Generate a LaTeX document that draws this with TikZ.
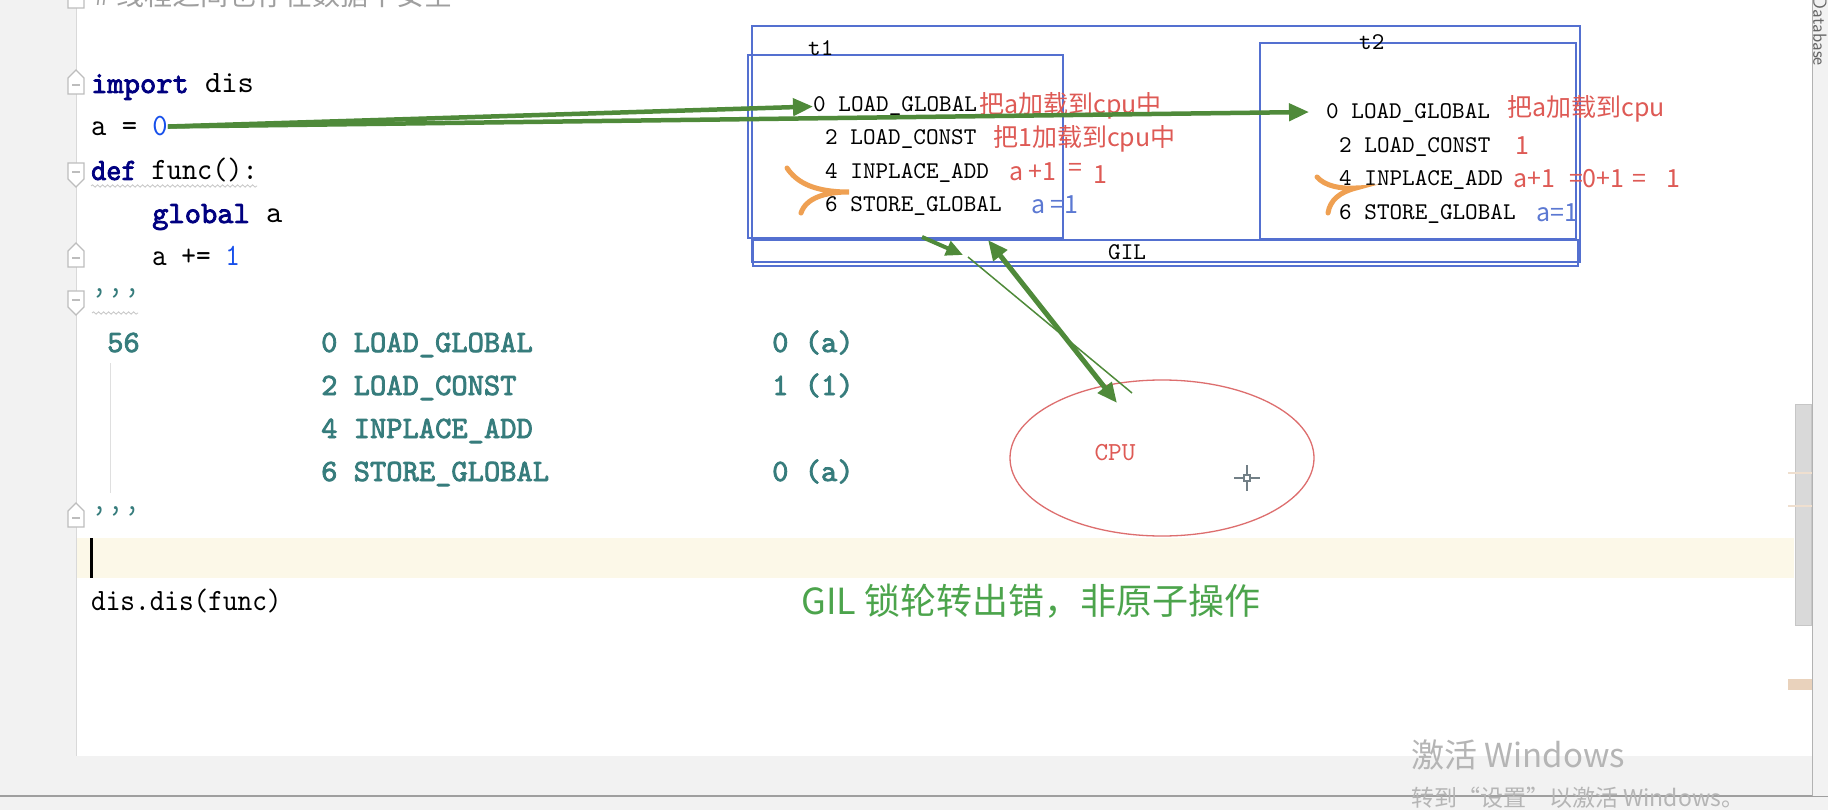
\documentclass[tikz,border=0pt]{standalone}
\usepackage{fontspec}
\setmonofont[Extension=.otf,UprightFont=*-regular,BoldFont=*-regular,
  BoldFeatures={FakeBold=2.5}]{lmmono10}
\newfontfamily\cjk{Noto Sans CJK SC}
\usetikzlibrary{arrows.meta,shapes.geometric,decorations.pathmorphing}

\definecolor{guttergray}{HTML}{F2F2F2}
\definecolor{kwnavy}{HTML}{000080}
\definecolor{numblue}{HTML}{1750EB}
\definecolor{dasmteal}{HTML}{367C7C}
\definecolor{boxblue}{HTML}{5470D0}
\definecolor{annored}{HTML}{DE5A55}
\definecolor{annoblue}{HTML}{5B78D2}
\definecolor{arrowgreen}{HTML}{4F8A3A}
\definecolor{penorange}{HTML}{EFA052}
\definecolor{cpured}{HTML}{DD6E6E}
\definecolor{notegreen}{HTML}{4CA44C}
\definecolor{caretline}{HTML}{FCF8E8}
\definecolor{markgray}{HTML}{BDBDBD}
\definecolor{winmark}{HTML}{B5B5B5}

\newcommand{\kwd}[1]{{\bfseries\color{kwnavy}#1}}
\newcommand{\numlit}[1]{{\color{numblue}#1}}

\begin{document}
\begin{tikzpicture}[x=1pt,y=-1pt,
    code/.style={anchor=base west,inner sep=0pt,font=\fontsize{31}{36}\selectfont\ttfamily},
    dasm/.style={code,font=\fontsize{31}{36}\selectfont\ttfamily\bfseries,text=dasmteal},
    op/.style={anchor=base west,inner sep=0pt,font=\fontsize{24}{28}\selectfont\ttfamily},
    anno/.style={anchor=base west,inner sep=0pt,font=\fontsize{25}{28}\selectfont\cjk,text=annored},
    thrbox/.style={draw=boxblue,line width=1.3pt},
    grarrow/.style={draw=arrowgreen,line width=4.5pt,-{Triangle[length=20pt,width=17pt]}},
    pen/.style={draw=penorange,line width=5pt,line cap=round},
    foldline/.style={draw=markgray,fill=white,line width=1.1pt},
    foldend/.pic={\path[foldline] (-8,12) -- (-8,-4) -- (0,-12) -- (8,-4) -- (8,12) -- cycle;
      \draw[markgray,line width=1.1pt] (-4,3) -- (4,3);},
    foldbeg/.pic={\path[foldline] (-8,-12) -- (-8,4) -- (0,12) -- (8,4) -- (8,-12) -- cycle;
      \draw[markgray,line width=1.1pt] (-4,-3) -- (4,-3);},
    squiggly/.style={draw=gray!45,line width=0.8pt,decorate,
      decoration={snake,segment length=5pt,amplitude=1.2pt}}]
  \useasboundingbox (0,0) rectangle (1828,810);
  \clip (0,0) rectangle (1828,810);

  % editor window
  \fill[white] (0,0) rectangle (1828,810);
  \fill[guttergray] (0,0) rectangle (76,756);
  \draw[gray!30,line width=1pt] (76.5,0) -- (76.5,756);
  \fill[caretline] (77,538) rectangle (1794,578);
  \fill[guttergray] (0,756) rectangle (1828,810);
  \draw[gray!75,line width=2pt] (0,796) -- (1828,796);
  \fill[guttergray] (1812,0) rectangle (1828,796);
  \draw[gray!60,line width=1pt] (1812,0) -- (1812,796);
  \filldraw[fill=gray!30,draw=gray!45] (1795,404) rectangle (1811,625);
  \draw[brown!25,line width=1.5pt] (1788,473) -- (1812,473);
  \draw[brown!25,line width=1.5pt] (1788,506) -- (1812,506);
  \fill[brown!35!white] (1788,679) rectangle (1812,690);
  \node[rotate=-90,anchor=south east,inner sep=0pt,font=\fontsize{19}{20}\sffamily,text=gray!80!black]
    (dbtab) at (1813,66) {Database};

  % fold marks
  \pic at (76,-4) {foldend};
  \pic at (76,82) {foldend};
  \pic at (76,175) {foldbeg};
  \pic at (76,255) {foldend};
  \pic at (76,303) {foldbeg};
  \pic at (76,515) {foldend};

  % source lines
  \node[anchor=base west,inner sep=0pt,font=\fontsize{28}{30}\selectfont\cjk,text=gray!75]
    (cmt) at (94,6) {\# 线程之间也存在数据不安全};
  \node[code] (l1) at (91,93) {\kwd{import} dis};
  \node[code,xscale=0.94] (l2) at (91,136) {a = \numlit{0}};
  \node[code,xscale=0.93] (l3) at (91,180) {\kwd{def} func():};
  \draw[squiggly] (91,186) -- (257,186);
  \node[code] (l4) at (152,223) {\kwd{global} a};
  \node[code,xscale=0.9] (l5) at (152,266) {a += \numlit{1}};
  \node[code,text=dasmteal] (q1) at (91,308) {’’’};
  \draw[squiggly] (92,313) -- (138,313);
  \draw[gray!25,line width=1pt] (110,363) -- (110,493);
  \node[dasm] (ln) at (107,352) {56};
  \node[dasm] (d1) at (321,352) {0 LOAD\_GLOBAL};
  \node[dasm] (a1) at (772,352) {0 (a)};
  \node[dasm] (d2) at (321,395) {2 LOAD\_CONST};
  \node[dasm] (a2) at (772,395) {1 (1)};
  \node[dasm] (d3) at (321,438) {4 INPLACE\_ADD};
  \node[dasm] (d4) at (321,481) {6 STORE\_GLOBAL};
  \node[dasm] (a4) at (772,481) {0 (a)};
  \node[code,text=dasmteal] (q2) at (91,525) {’’’};
  \fill[black] (90,538) rectangle (93,578);
  \node[code,xscale=0.9] (l6) at (91,610) {dis.dis(func)};

  % threads and the GIL
  \draw[thrbox] (752,26) rectangle (1580,262);
  \draw[thrbox] (753,240) rectangle (1578,266);
  \draw[thrbox] (748,55) rectangle (1063,238);
  \draw[thrbox] (1260,43) rectangle (1576,239);
  \node[op] (t1) at (808,56) {t1};
  \node[op] (t2) at (1359,50) {t2};
  \node[op] (gil) at (1108,260) {GIL};

  \node[op] (s0) at (813,112) {0 LOAD\_GLOBAL};
  \node[op] (s2) at (825,145) {2 LOAD\_CONST};
  \node[op] (s4) at (825,179) {4 INPLACE\_ADD};
  \node[op] (s6) at (825,212) {6 STORE\_GLOBAL};
  \node[anno] (n0) at (979,114) {把a加载到cpu中};
  \node[anno] (n2) at (993,147) {把1加载到cpu中};
  \node[anno] (n4) at (1009,181)
    {a\hspace{5pt}+1\hspace{12pt}\raisebox{4pt}{=}\hspace{12pt}\raisebox{-3pt}{1}};
  \node[anno,text=annoblue] (n6) at (1031,214) {a =1};

  \node[op] (u0) at (1326,119) {0 LOAD\_GLOBAL};
  \node[op] (u2) at (1339,153) {2 LOAD\_CONST};
  \node[op] (u4) at (1339,186) {4 INPLACE\_ADD};
  \node[op] (u6) at (1339,220) {6 STORE\_GLOBAL};
  \node[anno] (m0) at (1507,117) {把a加载到cpu};
  \node[anno] (m2) at (1515,155) {1};
  \node[anno] (m4) at (1513,188) {a+1\hspace{14pt}=0+1\hspace{8pt}=\hspace{20pt}1};
  \node[anno,text=annoblue] (m6) at (1536,222) {a=1};

  \draw[pen] (787,168) .. controls (797,183) and (815,192) .. (849,192)
    .. controls (825,192) and (806,198) .. (801,213);
  \draw[pen] (1317,177) .. controls (1325,186) and (1340,189) .. (1356,188)
    .. controls (1340,192) and (1330,200) .. (1328,213);

  % CPU
  \node[ellipse,draw=cpured,line width=1.3pt,minimum width=304pt,minimum height=156pt]
    (cpu) at (1162,458) {};
  \node[inner sep=0pt,font=\fontsize{26}{28}\selectfont\ttfamily,text=annored]
    (cpulbl) at (1115,453) {CPU};
  \draw[black!60!cyan!40!gray,line width=1.4pt] (1234,478) -- (1243,478) (1251,478) -- (1260,478)
    (1247,465) -- (1247,474) (1247,482) -- (1247,491);
  \draw[black!60!cyan!40!gray,line width=1.2pt] (1244,475) rectangle (1250,481);

  % arrows
  \coordinate (t2in) at (1309,112);
  \coordinate (lockout) at (922,237);
  \coordinate (lockin) at (963,255);
  \coordinate (gilup) at (988,240);
  \coordinate (cpuin) at (1117,403);
  \coordinate (thinup) at (968,257);
  \coordinate (thindn) at (1132,393);
  \draw[grarrow] (l2.east) -- (s0.west);
  \draw[grarrow] (l2.east) -- (t2in);
  \draw[grarrow,line width=4pt,-{Triangle[length=17pt,width=15pt]}] (lockout) -- (lockin);
  \draw[arrowgreen,line width=1.5pt] (thinup) -- (thindn);
  \draw[grarrow,line width=5pt,{Triangle[length=20pt,width=17pt]}-{Triangle[length=20pt,width=17pt]}]
    (gilup) -- (cpuin);

  % note
  \node[anchor=base west,inner sep=0pt,font=\fontsize{36}{40}\selectfont\cjk,text=notegreen]
    (note) at (801,614) {GIL 锁轮转出错，非原子操作};

  % activation watermark
  \node[anchor=base west,inner sep=0pt,font=\fontsize{33}{36}\selectfont\cjk,text=winmark]
    (act1) at (1411,767) {激活 Windows};
  \node[anchor=base west,inner sep=0pt,font=\fontsize{23}{26}\selectfont\cjk,text=winmark]
    (act2) at (1411,806) {转到“设置”以激活 Windows。};
\end{tikzpicture}
\end{document}
